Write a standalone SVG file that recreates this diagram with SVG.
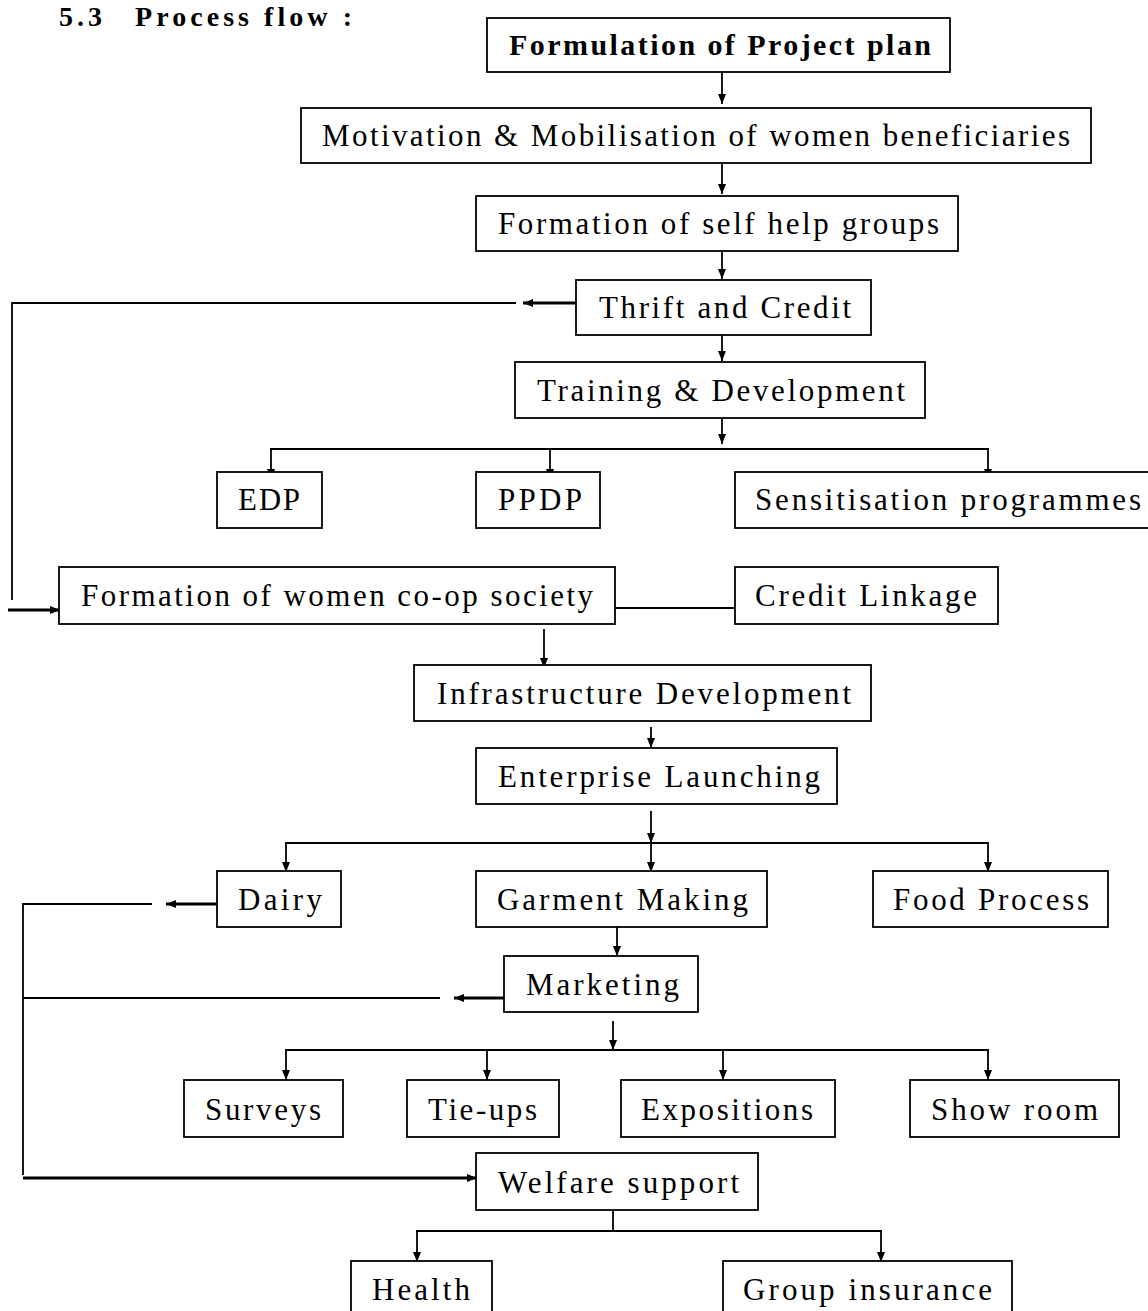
<svg xmlns="http://www.w3.org/2000/svg" width="1148" height="1311" viewBox="0 0 1148 1311">
<defs>
<style>
.box{fill:#fff;stroke:#000;stroke-width:1.8}
.t{font-family:"Liberation Serif","Times New Roman",serif;font-size:31px;fill:#000;text-anchor:start}
.b{font-weight:bold;font-size:30px}
.h{font-weight:bold;font-size:28px}
.c{fill:none;stroke:#000;stroke-width:1.8}
.k{fill:none;stroke:#000;stroke-width:3}
</style>
<marker id="ah" markerUnits="userSpaceOnUse" viewBox="0 0 10 8" markerWidth="10" markerHeight="8" refX="10" refY="4" orient="auto">
<path d="M0,0 L10,4 L0,8 z" fill="#000"/>
</marker>
</defs>
<rect width="1148" height="1311" fill="#fff"/>
<g id="title">
<text class="t h" x="59" y="26" textLength="43" lengthAdjust="spacing">5.3</text>
<text class="t h" x="135" y="26" textLength="217" lengthAdjust="spacing">Process flow :</text>
</g>
<g id="connectors">
<line class="c" x1="722" y1="63" x2="722" y2="104" marker-end="url(#ah)"/>
<line class="c" x1="722" y1="153" x2="722" y2="194" marker-end="url(#ah)"/>
<line class="c" x1="722" y1="242" x2="722" y2="279" marker-end="url(#ah)"/>
<line class="c" x1="722" y1="330" x2="722" y2="361" marker-end="url(#ah)"/>
<line class="c" x1="722" y1="413" x2="722" y2="444" marker-end="url(#ah)"/>
<line class="c" x1="270" y1="449" x2="989" y2="449"/>
<line class="c" x1="271" y1="449" x2="271" y2="479" marker-end="url(#ah)"/>
<line class="c" x1="550" y1="449" x2="550" y2="479" marker-end="url(#ah)"/>
<line class="c" x1="988" y1="449" x2="988" y2="479" marker-end="url(#ah)"/>
<line class="k" x1="576" y1="303" x2="523" y2="303" marker-end="url(#ah)"/>
<polyline class="c" points="516,303 12,303 12,600"/>
<line class="k" x1="8" y1="610" x2="60" y2="610" marker-end="url(#ah)"/>
<line class="c" x1="615" y1="608" x2="735" y2="608"/>
<line class="c" x1="544" y1="629" x2="544" y2="668" marker-end="url(#ah)"/>
<line class="c" x1="651" y1="727" x2="651" y2="748" marker-end="url(#ah)"/>
<line class="c" x1="651" y1="811" x2="651" y2="843" marker-end="url(#ah)"/>
<line class="c" x1="285" y1="843" x2="989" y2="843"/>
<line class="c" x1="286" y1="843" x2="286" y2="872" marker-end="url(#ah)"/>
<line class="c" x1="651" y1="843" x2="651" y2="872" marker-end="url(#ah)"/>
<line class="c" x1="988" y1="843" x2="988" y2="872" marker-end="url(#ah)"/>
<line class="k" x1="217" y1="904" x2="166" y2="904" marker-end="url(#ah)"/>
<polyline class="c" points="152,904 23,904 23,1175"/>
<line class="k" x1="23" y1="1178" x2="477" y2="1178" marker-end="url(#ah)"/>
<line class="c" x1="617" y1="927" x2="617" y2="956" marker-end="url(#ah)"/>
<line class="k" x1="504" y1="998" x2="454" y2="998" marker-end="url(#ah)"/>
<line class="c" x1="440" y1="998" x2="23" y2="998"/>
<line class="c" x1="613" y1="1021" x2="613" y2="1050" marker-end="url(#ah)"/>
<line class="c" x1="285" y1="1050" x2="989" y2="1050"/>
<line class="c" x1="286" y1="1050" x2="286" y2="1080" marker-end="url(#ah)"/>
<line class="c" x1="487" y1="1050" x2="487" y2="1080" marker-end="url(#ah)"/>
<line class="c" x1="723" y1="1050" x2="723" y2="1080" marker-end="url(#ah)"/>
<line class="c" x1="988" y1="1050" x2="988" y2="1080" marker-end="url(#ah)"/>
<line class="c" x1="613" y1="1210" x2="613" y2="1231"/>
<line class="c" x1="416" y1="1231" x2="882" y2="1231"/>
<line class="c" x1="417" y1="1231" x2="417" y2="1262" marker-end="url(#ah)"/>
<line class="c" x1="881" y1="1231" x2="881" y2="1262" marker-end="url(#ah)"/>
</g>
<g id="n1"><rect class="box" x="487" y="18" width="463" height="54"/><text class="t b" x="509" y="55" textLength="422" lengthAdjust="spacing">Formulation of Project plan</text></g>
<g id="n2"><rect class="box" x="301" y="108" width="790" height="55"/><text class="t" x="322" y="146" textLength="748" lengthAdjust="spacing">Motivation &amp; Mobilisation of women beneficiaries</text></g>
<g id="n3"><rect class="box" x="476" y="196" width="482" height="55"/><text class="t" x="498" y="234" textLength="441" lengthAdjust="spacing">Formation of self help groups</text></g>
<g id="n4"><rect class="box" x="576" y="280" width="295" height="55"/><text class="t" x="599" y="318" textLength="252" lengthAdjust="spacing">Thrift and Credit</text></g>
<g id="n5"><rect class="box" x="515" y="362" width="410" height="56"/><text class="t" x="537" y="401" textLength="368" lengthAdjust="spacing">Training &amp; Development</text></g>
<g id="n6"><rect class="box" x="217" y="472" width="105" height="56"/><text class="t" x="238" y="510" textLength="62" lengthAdjust="spacing">EDP</text></g>
<g id="n7"><rect class="box" x="476" y="472" width="124" height="56"/><text class="t" x="498" y="510" textLength="84" lengthAdjust="spacing">PPDP</text></g>
<g id="n8"><rect class="box" x="735" y="472" width="420" height="56"/><text class="t" x="755" y="510" textLength="386" lengthAdjust="spacing">Sensitisation programmes</text></g>
<g id="n9"><rect class="box" x="59" y="567" width="556" height="57"/><text class="t" x="81" y="606" textLength="512" lengthAdjust="spacing">Formation of women co-op society</text></g>
<g id="n10"><rect class="box" x="735" y="567" width="263" height="57"/><text class="t" x="755" y="606" textLength="222" lengthAdjust="spacing">Credit Linkage</text></g>
<g id="n11"><rect class="box" x="414" y="665" width="457" height="56"/><text class="t" x="437" y="704" textLength="414" lengthAdjust="spacing">Infrastructure Development</text></g>
<g id="n12"><rect class="box" x="476" y="748" width="361" height="56"/><text class="t" x="498" y="787" textLength="322" lengthAdjust="spacing">Enterprise Launching</text></g>
<g id="n13"><rect class="box" x="217" y="871" width="124" height="56"/><text class="t" x="238" y="910" textLength="84" lengthAdjust="spacing">Dairy</text></g>
<g id="n14"><rect class="box" x="476" y="871" width="291" height="56"/><text class="t" x="497" y="910" textLength="251" lengthAdjust="spacing">Garment Making</text></g>
<g id="n15"><rect class="box" x="873" y="871" width="235" height="56"/><text class="t" x="893" y="910" textLength="196" lengthAdjust="spacing">Food Process</text></g>
<g id="n16"><rect class="box" x="504" y="956" width="194" height="56"/><text class="t" x="526" y="995" textLength="153" lengthAdjust="spacing">Marketing</text></g>
<g id="n17"><rect class="box" x="184" y="1080" width="159" height="57"/><text class="t" x="205" y="1120" textLength="116" lengthAdjust="spacing">Surveys</text></g>
<g id="n18"><rect class="box" x="407" y="1080" width="152" height="57"/><text class="t" x="428" y="1120" textLength="109" lengthAdjust="spacing">Tie-ups</text></g>
<g id="n19"><rect class="box" x="621" y="1080" width="214" height="57"/><text class="t" x="641" y="1120" textLength="172" lengthAdjust="spacing">Expositions</text></g>
<g id="n20"><rect class="box" x="910" y="1080" width="209" height="57"/><text class="t" x="931" y="1120" textLength="167" lengthAdjust="spacing">Show room</text></g>
<g id="n21"><rect class="box" x="476" y="1153" width="282" height="57"/><text class="t" x="498" y="1193" textLength="241" lengthAdjust="spacing">Welfare support</text></g>
<g id="n22"><rect class="box" x="351" y="1261" width="141" height="57"/><text class="t" x="372" y="1300" textLength="98" lengthAdjust="spacing">Health</text></g>
<g id="n23"><rect class="box" x="723" y="1261" width="289" height="57"/><text class="t" x="743" y="1300" textLength="249" lengthAdjust="spacing">Group insurance</text></g>
</svg>
